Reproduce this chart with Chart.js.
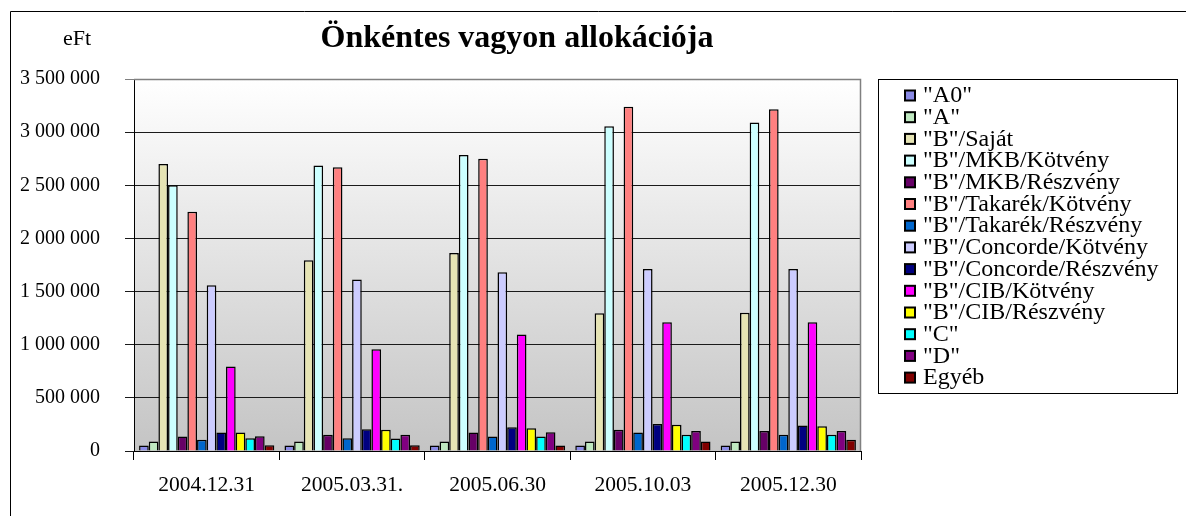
<!DOCTYPE html>
<html>
<head>
<meta charset="utf-8">
<script src="https://cdn.jsdelivr.net/npm/chart.js@4/dist/chart.umd.min.js"></script>
<style>
html,body{margin:0;padding:0;background:#fff;}
#wrap{position:relative;width:1186px;height:516px;}
canvas{display:block;}
</style>
</head>
<body>
<div id="wrap"><canvas id="c" width="1186" height="516"></canvas></div>
<script>
// ---- data ----
const categories = ["2004.12.31", "2005.03.31.", "2005.06.30", "2005.10.03", "2005.12.30"];
const seriesNames = ['"A0"', '"A"', '"B"/Saját', '"B"/MKB/Kötvény', '"B"/MKB/Részvény', '"B"/Takarék/Kötvény', '"B"/Takarék/Részvény', '"B"/Concorde/Kötvény', '"B"/Concorde/Részvény', '"B"/CIB/Kötvény', '"B"/CIB/Részvény', '"C"', '"D"', 'Egyéb'];
const valA0 = [51000, 51000, 51000, 51000, 51000];
const valA = [89000, 89000, 89000, 89000, 89000];
const valBSajat = [2700000, 1795000, 1863000, 1295000, 1300000];
const valMKBKotveny = [2500000, 2685000, 2785000, 3055000, 3090000];
const valMKBReszveny = [136000, 154000, 173000, 200000, 189000];
const valTakarekKotveny = [2250000, 2670000, 2750000, 3240000, 3215000];
const valTakarekReszveny = [105000, 120000, 136000, 173000, 154000];
const valConcordeKotveny = [1560000, 1613000, 1682000, 1713000, 1713000];
const valConcordeReszveny = [173000, 204000, 223000, 254000, 239000];
const valCIBKotveny = [796000, 958000, 1095000, 1211000, 1211000];
const valCIBReszveny = [173000, 200000, 215000, 248000, 232000];
const valC = [120000, 117000, 136000, 152000, 152000];
const valD = [139000, 152000, 176000, 189000, 189000];
const valEgyeb = [54000, 54000, 51000, 89000, 105000];
const yTicks = [0, 500000, 1000000, 1500000, 2000000, 2500000, 3000000, 3500000];
const titleText = "Önkéntes vagyon allokációja";
const unitText = "eFt";

// ---- styles ----
const seriesValues = [valA0, valA, valBSajat, valMKBKotveny, valMKBReszveny, valTakarekKotveny, valTakarekReszveny, valConcordeKotveny, valConcordeReszveny, valCIBKotveny, valCIBReszveny, valC, valD, valEgyeb];
const colors = ['#8a8ae6', '#bfe8c0', '#e6e4b4', '#ccffff', '#660066', '#ff8080', '#0066cc', '#ccccff', '#000080', '#ff00ff', '#ffff00', '#00ffff', '#800080', '#800000'];
const serif = "'Liberation Serif','Times New Roman',serif";

function fmt(v){ return String(v).replace(/\B(?=(\d{3})+(?!\d))/g, ' '); }

const datasets = seriesNames.map((n, i) => ({
  label: n,
  data: seriesValues[i],
  backgroundColor: colors[i],
  borderColor: '#000',
  borderWidth: 1.5,
  categoryPercentage: 0.93,
  barPercentage: 1.0
}));

const decor = {
  id: 'decor',
  beforeDraw(chart){
    const ctx = chart.ctx, a = chart.chartArea;
    ctx.save();
    ctx.fillStyle = '#fff';
    ctx.fillRect(0,0,chart.width,chart.height);
    const g = ctx.createLinearGradient(0, a.top, 0, a.bottom);
    g.addColorStop(0, '#ffffff');
    g.addColorStop(1, '#c4c4c4');
    ctx.fillStyle = g;
    ctx.fillRect(a.left, a.top, a.right - a.left, a.bottom - a.top);
    ctx.restore();
  },
  afterDraw(chart){
    const ctx = chart.ctx, a = chart.chartArea;
    ctx.save();
    // plot frame top/right
    ctx.strokeStyle = '#808080';
    ctx.lineWidth = 1.5;
    ctx.beginPath();
    ctx.moveTo(a.left, a.top + 0.5);
    ctx.lineTo(a.right - 0.5, a.top + 0.5);
    ctx.lineTo(a.right - 0.5, a.bottom);
    ctx.stroke();
    // outer frame
    ctx.strokeStyle = '#000';
    ctx.lineWidth = 1;
    ctx.beginPath();
    ctx.moveTo(10.5, 516);
    ctx.lineTo(10.5, 11.5);
    ctx.lineTo(1186, 11.5);
    ctx.stroke();
    // title
    ctx.fillStyle = '#000';
    ctx.textAlign = 'center';
    ctx.textBaseline = 'alphabetic';
    ctx.font = 'bold 32px ' + serif;
    ctx.fillText(titleText, 517, 47);
    ctx.font = '22px ' + serif;
    ctx.fillText(unitText, 77, 45);
    // legend
    const lx = 878, ly = 79, lw = 299, lh = 314;
    ctx.strokeStyle = '#000';
    ctx.lineWidth = 1;
    ctx.strokeRect(lx + 0.5, ly + 0.5, lw, lh);
    ctx.textAlign = 'left';
    ctx.textBaseline = 'middle';
    ctx.font = '24px ' + serif;
    chart.data.datasets.forEach((ds, i) => {
      const cy = 95 + i * 21.7;
      ctx.fillStyle = '#000';
      ctx.fillRect(904, cy - 5.5, 12, 12);
      ctx.fillStyle = ds.backgroundColor;
      ctx.fillRect(906, cy - 3.5, 8, 8);
      ctx.fillStyle = '#000';
      ctx.fillText(ds.label, 923, cy + 1);
    });
    ctx.restore();
  }
};

new Chart(document.getElementById('c'), {
  type: 'bar',
  data: { labels: categories, datasets },
  plugins: [decor],
  options: {
    responsive: false,
    devicePixelRatio: 1,
    animation: false,
    layout: { padding: { left: 0, top: 79, right: 325, bottom: 0 } },
    plugins: { legend: { display: false }, title: { display: false }, tooltip: { enabled: false } },
    scales: {
      x: {
        afterFit(s){ s.height = 65; },
        grid: { offset: true, drawOnChartArea: false, drawTicks: true, tickLength: 9, color: '#000', lineWidth: 1 },
        border: { display: true, color: '#000', width: 1 },
        ticks: { color: '#000', font: { family: serif, size: 21.5 }, padding: 12, maxRotation: 0 }
      },
      y: {
        min: 0, max: 3500000,
        afterFit(s){ s.width = 134; },
        afterBuildTicks(s){ s.ticks = yTicks.map(v => ({ value: v })); },
        grid: {
          color: (c) => (c.tick && c.tick.value === 3500000) ? '#808080' : '#1a1a1a',
          lineWidth: 1, tickLength: 9, drawTicks: true
        },
        border: { display: true, color: '#000', width: 1 },
        ticks: { color: '#000', font: { family: serif, size: 20 }, padding: 25, callback: (v) => fmt(v) }
      }
    }
  }
});
</script>
</body>
</html>
